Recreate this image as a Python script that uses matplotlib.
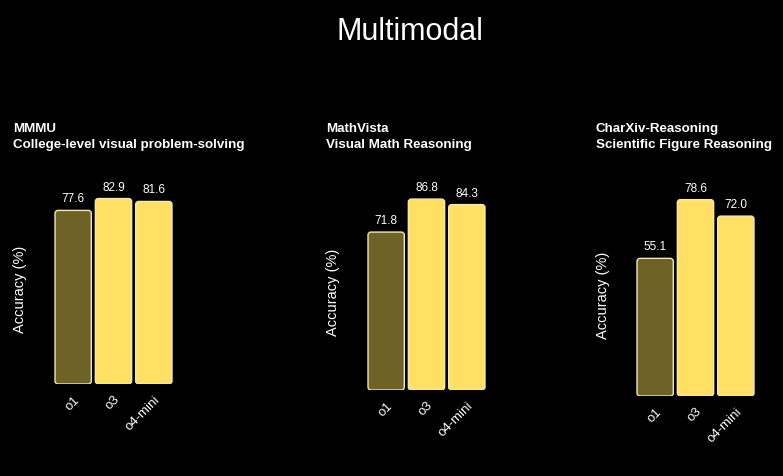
import numpy as np
import matplotlib.pyplot as plt
from matplotlib.patches import FancyBboxPatch

plt.rcParams["font.family"] = ["Liberation Sans", "DejaVu Sans"]

# -------------------------------------------------------------------
# Data
# -------------------------------------------------------------------
models = ["o1", "o3", "o4-mini"]
benchmarks = ["MMMU", "MathVista", "CharXiv-Reasoning"]
subtitles = [
    "College-level visual problem-solving",
    "Visual Math Reasoning",
    "Scientific Figure Reasoning",
]
mmmu = [77.6, 82.9, 81.6]
mathvista = [71.8, 86.8, 84.3]
charxiv = [55.1, 78.6, 72.0]
scores = [mmmu, mathvista, charxiv]

bar_colors = ["#6e6226", "#ffe062", "#ffe062"]
edge_color = "#f3e9b4"

# -------------------------------------------------------------------
# Layout (figure pixels: left, bottom of bars, top of axes)
# -------------------------------------------------------------------
W, H = 783, 476
fig = plt.figure(figsize=(W / 100, H / 100), dpi=100, facecolor="black")

panel_left = [53, 366, 635]
panel_bottom = [384, 390, 396]
panel_top = 180
panel_width = 121
title_x = [13, 326, 596]
ylabel_x = [20, 333, 603]

fig.text(410 / W, 1 - 32 / H, "Multimodal", color="white", fontsize=22,
         ha="center", va="center")

for k in range(3):
    ax = fig.add_axes([panel_left[k] / W, 1 - panel_bottom[k] / H,
                       panel_width / W, (panel_bottom[k] - panel_top) / H])
    ax.set_facecolor("black")
    vals = scores[k]
    x = np.arange(len(models))
    ymax = max(vals) * 1.1
    ax.set_xlim(-0.5, len(models) - 0.5)
    ax.set_ylim(0, ymax)

    # pixel -> data scale for rounded corners and label offsets
    bbox = ax.get_window_extent()
    px_x = len(models) / bbox.width
    px_y = ymax / bbox.height
    width = 0.9
    for xi, v, c in zip(x, vals, bar_colors):
        patch = FancyBboxPatch(
            (xi - width / 2, 0), width, v,
            boxstyle=f"round,pad=0,rounding_size={3 * px_x}",
            mutation_aspect=px_y / px_x,
            facecolor=c, edgecolor=edge_color, linewidth=1.0,
        )
        ax.add_patch(patch)
        ax.text(xi, v + 5 * px_y, f"{v:.1f}",
                color="white", fontsize=8.5, ha="center", va="bottom")

    ax.set_xticks(x)
    ax.set_xticklabels(models, rotation=45, ha="right",
                       rotation_mode="anchor", color="white", fontsize=9.5)
    ax.tick_params(axis="x", length=0, pad=7)
    ax.set_yticks([])
    for s in ax.spines.values():
        s.set_visible(False)

    fig.text(ylabel_x[k] / W, 1 - ((panel_bottom[k] + 194) / 2) / H,
             "Accuracy (%)", color="white", fontsize=10.5,
             rotation=90, ha="center", va="center")
    fig.text(title_x[k] / W, 1 - 123 / H,
             f"{benchmarks[k]}\n{subtitles[k]}", color="white",
             fontsize=9.6, fontweight="bold", ha="left", va="top",
             linespacing=1.45)

fig.savefig("out.png", dpi=100, facecolor="black")
